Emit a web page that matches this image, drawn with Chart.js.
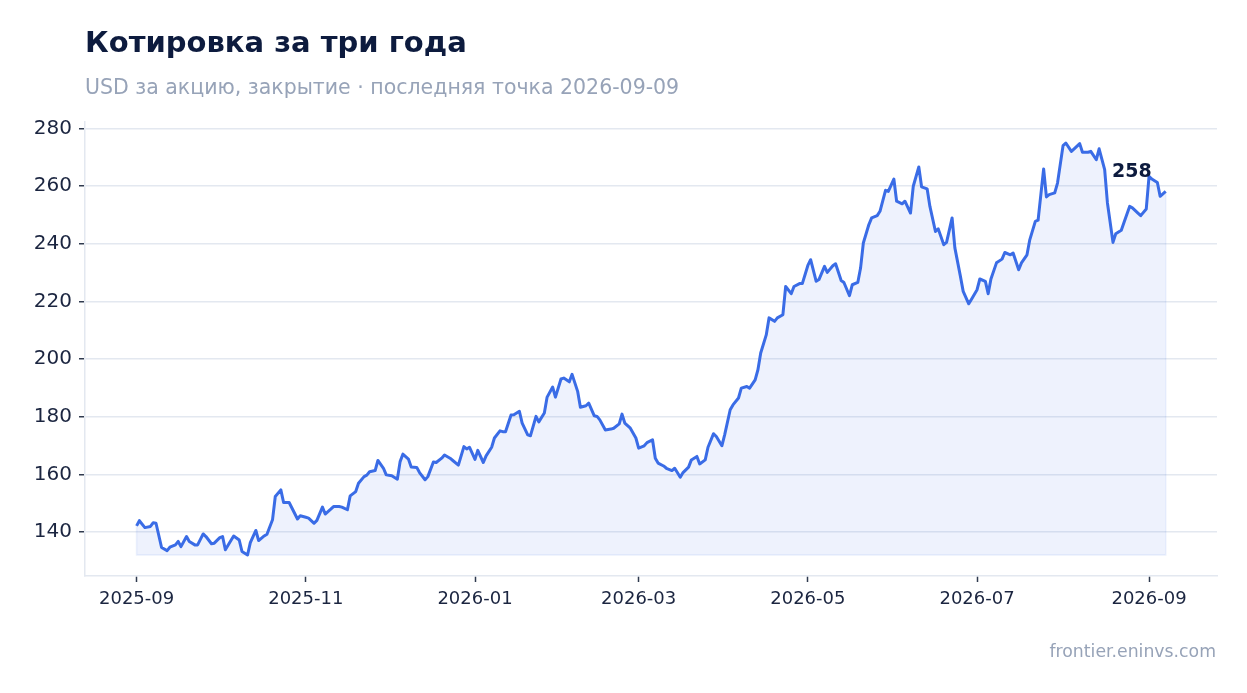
<!DOCTYPE html>
<html lang="ru">
<head>
<meta charset="utf-8">
<title>Котировка за три года</title>
<script src="https://cdn.jsdelivr.net/npm/chart.js@4.4.1/dist/chart.umd.min.js"></script>
<style>
  html, body { margin: 0; padding: 0; background: #ffffff; }
  body { width: 1247px; height: 693px; position: relative; overflow: hidden; font-family: "DejaVu Sans", sans-serif; }
  #wrap { position: absolute; left: 0; top: 0; width: 1247px; height: 693px; }
  .title { position: absolute; left: 85px; top: 28px; font-size: 29px; line-height: 1; font-weight: bold; color: #0d1b3e; white-space: nowrap; }
  .subtitle { position: absolute; left: 85px; top: 77px; font-size: 20.5px; line-height: 1; color: #97a3b8; white-space: nowrap; }
  .footer { position: absolute; right: 31px; top: 643px; font-size: 17.3px; line-height: 1; color: #97a3b8; white-space: nowrap; }
</style>
</head>
<body>
<div id="wrap"><canvas id="quote"></canvas></div>
<div class="title">Котировка за три года</div>
<div class="subtitle">USD за акцию, закрытие · последняя точка 2026-09-09</div>
<div class="footer">frontier.eninvs.com</div>
<script>
// дни от 2025-09-01
const days = [
  0, 1, 3, 5, 6, 7, 9, 11, 12, 14, 15, 16, 18, 19, 21, 22, 24, 25, 27, 28,
  30, 31, 32, 34, 35, 37, 38, 40, 41, 43, 44, 46, 47, 49, 50, 52, 53, 55, 56, 58,
  59, 61, 62, 64, 65, 67, 68, 70, 71, 73, 74, 76, 77, 79, 80, 82, 83, 84, 86, 87,
  89, 90, 92, 94, 95, 96, 98, 99, 101, 102, 104, 105, 107, 108, 110, 111, 113, 114, 116, 118,
  119, 120, 122, 123, 125, 126, 128, 129, 131, 132, 133, 135, 136, 138, 139, 141, 142, 144, 145, 147,
  148, 150, 151, 153, 154, 156, 157, 159, 160, 162, 163, 165, 166, 167, 169, 171, 172, 174, 175, 176,
  178, 180, 181, 183, 184, 186, 187, 188, 190, 191, 193, 194, 196, 197, 199, 200, 202, 203, 205, 206,
  208, 209, 211, 212, 214, 215, 217, 218, 220, 221, 223, 224, 225, 227, 228, 230, 231, 233, 234, 236,
  237, 239, 240, 242, 243, 245, 246, 248, 249, 251, 252, 254, 255, 257, 258, 260, 261, 262, 264, 265,
  267, 268, 270, 271, 273, 274, 276, 277, 279, 280, 282, 283, 285, 286, 288, 289, 291, 292, 294, 295,
  297, 298, 300, 301, 303, 304, 306, 307, 308, 310, 312, 313, 315, 316, 318, 319, 321, 322, 324, 325,
  327, 328, 329, 331, 332, 334, 335, 337, 338, 340, 341, 343, 344, 346, 347, 349, 350, 352, 353, 355,
  356, 358, 359, 361, 362, 364, 365, 366, 368, 369, 371
];

const prices = [
  142.1, 143.9, 141.5, 141.9, 143.2, 143.0, 134.6, 133.5, 134.7, 135.5, 136.7, 134.9, 138.4, 136.7, 135.5, 135.5, 139.3, 138.4, 135.9, 136.1,
  138.0, 138.4, 133.8, 137.0, 138.6, 137.2, 133.2, 132.0, 136.3, 140.5, 137.0, 138.6, 139.2, 144.2, 152.3, 154.6, 150.2, 150.2, 148.3, 144.5,
  145.6, 145.1, 144.8, 143.0, 144.0, 148.6, 146.2, 147.9, 148.8, 148.8, 148.6, 147.7, 152.5, 154.0, 156.9, 159.2, 159.7, 160.9, 161.3, 164.8,
  162.1, 159.8, 159.5, 158.3, 164.4, 167.0, 165.3, 162.5, 162.4, 160.6, 158.1, 159.2, 164.3, 164.1, 165.6, 166.7, 165.6, 164.8, 163.2, 169.6,
  168.8, 169.4, 165.2, 168.3, 164.1, 166.4, 169.4, 172.6, 175.1, 174.8, 174.8, 180.6, 180.7, 181.9, 177.8, 173.7, 173.4, 180.1, 178.2, 181.3,
  186.8, 190.3, 186.8, 193.1, 193.4, 192.1, 194.7, 188.8, 183.3, 183.8, 184.7, 180.3, 180.1, 178.9, 175.4, 175.7, 176.0, 177.5, 180.9, 177.8,
  176.0, 172.6, 169.1, 169.9, 171.0, 172.0, 165.6, 163.9, 162.9, 162.1, 161.3, 162.1, 159.0, 160.6, 162.5, 165.0, 166.2, 163.6, 165.0, 169.4,
  174.1, 173.1, 169.9, 173.7, 182.4, 184.1, 186.5, 189.9, 190.5, 189.9, 192.8, 196.3, 202.1, 208.4, 214.3, 213.1, 214.3, 215.4, 225.2, 222.7,
  225.2, 226.2, 226.2, 232.5, 234.5, 227.0, 227.6, 232.2, 230.1, 232.4, 233.1, 227.3, 226.6, 222.0, 225.8, 226.6, 231.6, 240.3, 246.7, 249.0,
  249.8, 251.3, 258.6, 258.2, 262.5, 254.8, 253.9, 254.8, 250.7, 260.0, 266.7, 259.8, 259.1, 253.0, 244.3, 245.2, 239.7, 240.5, 249.0, 238.6,
  228.7, 223.5, 219.2, 220.8, 224.1, 227.8, 227.0, 222.7, 227.8, 233.4, 234.7, 237.0, 236.2, 236.8, 231.0, 233.4, 236.2, 241.4, 247.8, 248.2,
  266.0, 256.3, 257.1, 257.7, 261.1, 274.1, 275.0, 272.1, 273.0, 274.8, 271.8, 271.8, 272.1, 269.2, 273.0, 265.8, 254.2, 240.5, 243.5, 244.7,
  247.5, 253.0, 252.5, 250.7, 249.8, 252.1, 263.4, 262.5, 261.3, 256.5, 258.2
];

// подписи оси X: начало месяца
const tickDays = [0, 61, 122, 181, 242, 303, 365];
const tickLabels = ["2025-09", "2025-11", "2026-01", "2026-03", "2026-05", "2026-07", "2026-09"];
const yTicks = [140, 160, 180, 200, 220, 240, 260, 280];

const lineColor = "#3a6ce6";
const gridColor = "#e3e8f0";
const tickColor = "#2f3a4f";
const textColor = "#1b2540";

const points = days.map((d, i) => ({ x: d, y: prices[i] }));
const base = Math.min(...prices);
const last = points.length - 1;
const outline = [
  { x: days[0], y: prices[0] },
  { x: days[0], y: base },
  { x: days[last], y: base },
  { x: days[last], y: prices[last] },
];

// подпись последнего значения
const lastLabel = {
  id: "lastLabel",
  afterDatasetsDraw(chart) {
    const meta = chart.getDatasetMeta(0);
    const pt = meta.data[meta.data.length - 1];
    const ctx = chart.ctx;
    ctx.save();
    ctx.font = "bold 19px 'DejaVu Sans'";
    ctx.fillStyle = "#0d1b3e";
    ctx.textAlign = "right";
    ctx.textBaseline = "alphabetic";
    ctx.fillText(Math.round(prices[last]).toString(), pt.x - 14, pt.y - 14);
    ctx.restore();
  },
};

new Chart(document.getElementById("quote"), {
  type: "line",
  data: {
    datasets: [
      {
        label: "Цена",
        data: points,
        borderColor: lineColor,
        borderWidth: 3,
        backgroundColor: "rgba(58, 108, 230, 0.085)",
        fill: { value: base },
        pointRadius: 0,
        tension: 0,
        borderJoinStyle: "round",
      },
      {
        label: "контур",
        data: outline,
        borderColor: "rgba(58, 108, 230, 0.10)",
        borderWidth: 1.5,
        pointRadius: 0,
        fill: false,
      },
    ],
  },
  options: {
    responsive: true,
    maintainAspectRatio: false,
    animation: false,
    layout: { padding: { top: 122, right: 30, bottom: 77, left: 0 } },
    plugins: {
      legend: { display: false },
      tooltip: { enabled: false },
    },
    scales: {
      x: {
        type: "linear",
        min: -18.6,
        max: 389.5,
        afterBuildTicks: (scale) => {
          scale.ticks = tickDays.map((v) => ({ value: v }));
        },
        afterFit: (scale) => {
          scale.height = 40;
        },
        ticks: {
          autoSkip: false,
          maxRotation: 0,
          padding: 7,
          color: textColor,
          font: { family: "DejaVu Sans", size: 18 },
          callback: (v) => tickLabels[tickDays.indexOf(v)],
        },
        grid: {
          drawOnChartArea: false,
          drawTicks: true,
          tickLength: 6,
          tickColor: tickColor,
          tickWidth: 1.5,
        },
        border: { color: gridColor, width: 1.5 },
      },
      y: {
        min: 124.7,
        max: 282.3,
        afterBuildTicks: (scale) => {
          scale.ticks = yTicks.map((v) => ({ value: v }));
        },
        afterFit: (scale) => {
          scale.width = 85;
        },
        ticks: {
          padding: 7,
          color: textColor,
          font: { family: "DejaVu Sans", size: 20 },
        },
        grid: {
          color: gridColor,
          lineWidth: 1.5,
          tickLength: 6,
          tickColor: tickColor,
          tickWidth: 1.5,
        },
        border: { color: gridColor, width: 1.5 },
      },
    },
  },
  plugins: [lastLabel],
});
</script>
</body>
</html>
